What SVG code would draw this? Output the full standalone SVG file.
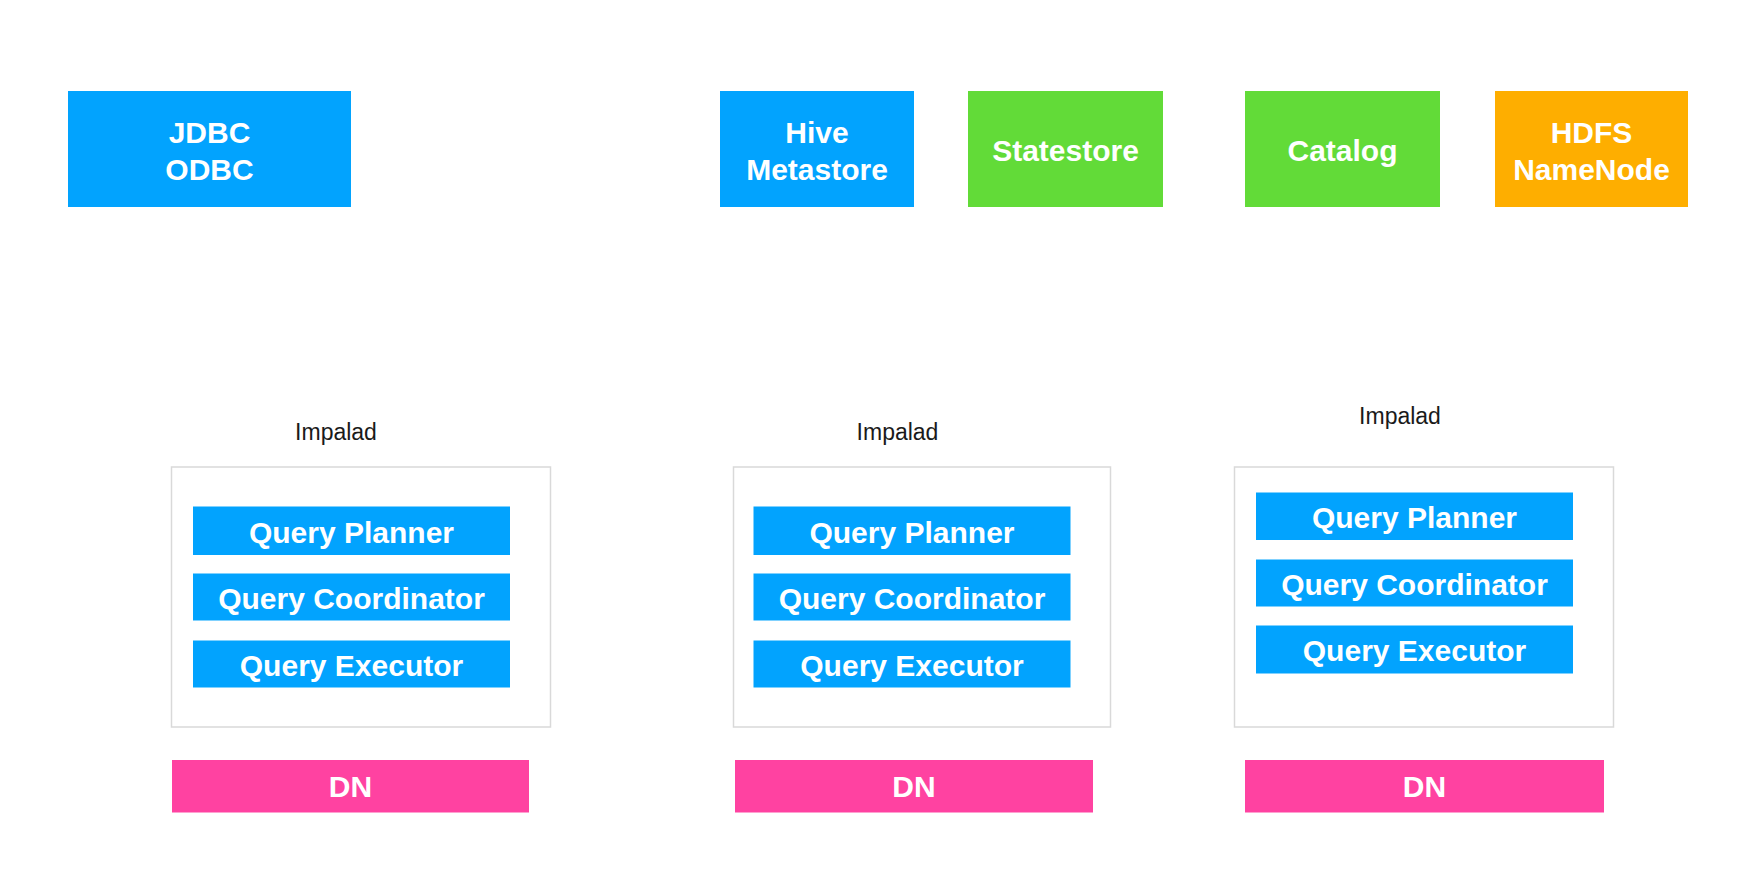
<svg xmlns="http://www.w3.org/2000/svg" width="1756" height="886" viewBox="0 0 1756 886">
<style>
.blue{fill:#02a3fe}
.green{fill:#62db38}
.orange{fill:#feae00}
.pink{fill:#ff42a1}
.frame{fill:#ffffff;stroke:#d9d9d9;stroke-width:1.5}
.w{font-family:"Liberation Sans",Arial,sans-serif;font-weight:bold;font-size:30px;fill:#ffffff;text-anchor:middle}
.lbl{font-family:"Liberation Sans",Arial,sans-serif;font-size:23px;fill:#1a1a1a;text-anchor:middle}
</style>
<rect width="1756" height="886" fill="#ffffff"/>
<g id="jdbc">
<rect class="blue" x="68" y="91" width="283" height="116"/>
<text class="w" x="209.5" y="143">JDBC</text>
<text class="w" x="209.5" y="180">ODBC</text>
</g>
<g id="hive">
<rect class="blue" x="720" y="91" width="194" height="116"/>
<text class="w" x="817" y="143">Hive</text>
<text class="w" x="817" y="180">Metastore</text>
</g>
<g id="statestore">
<rect class="green" x="968" y="91" width="195" height="116"/>
<text class="w" x="1065.5" y="161">Statestore</text>
</g>
<g id="catalog">
<rect class="green" x="1245" y="91" width="195" height="116"/>
<text class="w" x="1342.5" y="161">Catalog</text>
</g>
<g id="hdfs">
<rect class="orange" x="1495" y="91" width="193" height="116"/>
<text class="w" x="1591.5" y="143">HDFS</text>
<text class="w" x="1591.5" y="180">NameNode</text>
</g>
<g id="impalad1">
<text class="lbl" x="336" y="440">Impalad</text>
<rect class="frame" x="171.5" y="467" width="379" height="260"/>
<rect class="blue" x="193" y="506.5" width="317" height="48.5"/>
<text class="w" x="351.5" y="542.5">Query Planner</text>
<rect class="blue" x="193" y="573.5" width="317" height="47"/>
<text class="w" x="351.5" y="608.5">Query Coordinator</text>
<rect class="blue" x="193" y="640.5" width="317" height="47"/>
<text class="w" x="351.5" y="675.5">Query Executor</text>
</g>
<g id="dn1">
<rect class="pink" x="172" y="760" width="357" height="52.5"/>
<text class="w" x="350.5" y="797">DN</text>
</g>
<g id="impalad2">
<text class="lbl" x="897.5" y="440">Impalad</text>
<rect class="frame" x="733.5" y="467" width="377" height="260"/>
<rect class="blue" x="753.5" y="506.5" width="317" height="48.5"/>
<text class="w" x="912" y="542.5">Query Planner</text>
<rect class="blue" x="753.5" y="573.5" width="317" height="47"/>
<text class="w" x="912" y="608.5">Query Coordinator</text>
<rect class="blue" x="753.5" y="640.5" width="317" height="47"/>
<text class="w" x="912" y="675.5">Query Executor</text>
</g>
<g id="dn2">
<rect class="pink" x="735" y="760" width="358" height="52.5"/>
<text class="w" x="914" y="797">DN</text>
</g>
<g id="impalad3">
<text class="lbl" x="1400" y="424">Impalad</text>
<rect class="frame" x="1234.5" y="467" width="379" height="260"/>
<rect class="blue" x="1256" y="492.5" width="317" height="47.5"/>
<text class="w" x="1414.5" y="528">Query Planner</text>
<rect class="blue" x="1256" y="559.5" width="317" height="47"/>
<text class="w" x="1414.5" y="594.5">Query Coordinator</text>
<rect class="blue" x="1256" y="625.5" width="317" height="48"/>
<text class="w" x="1414.5" y="661">Query Executor</text>
</g>
<g id="dn3">
<rect class="pink" x="1245" y="760" width="359" height="52.5"/>
<text class="w" x="1424.5" y="797">DN</text>
</g>
<g id="connectors"></g>
</svg>
